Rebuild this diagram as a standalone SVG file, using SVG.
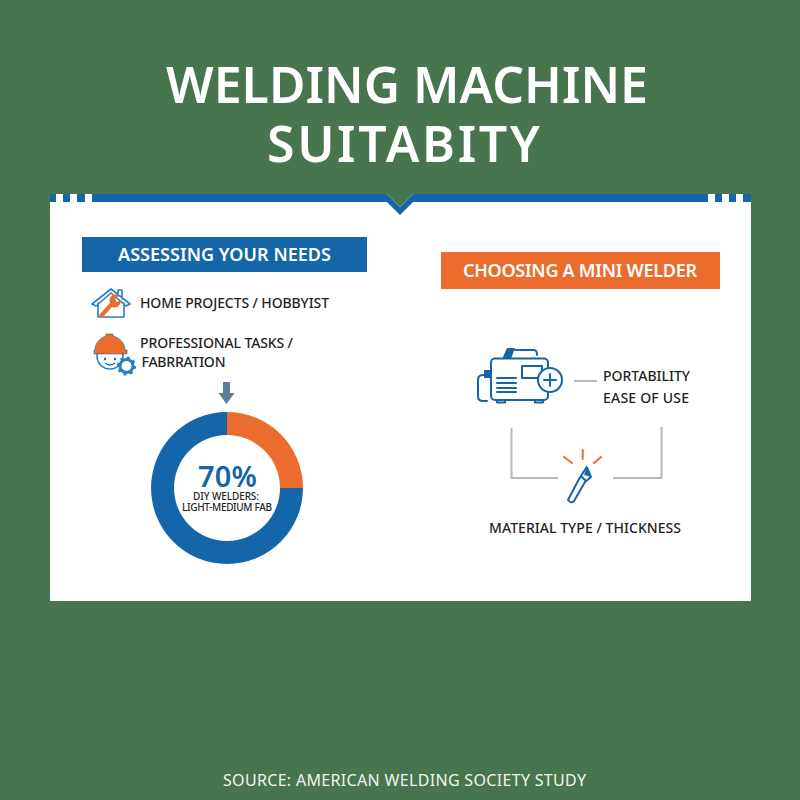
<svg xmlns="http://www.w3.org/2000/svg" width="800" height="800" viewBox="0 0 800 800">
<style>
text{font-family:"Noto Sans","Open Sans","Liberation Sans",sans-serif}
.t{fill:#fff;font-size:50px;font-weight:600}
.l{fill:#1f1f1f;font-size:14px;font-weight:500}
.h{fill:#fff;font-size:18px;font-weight:600}
.b{fill:none;stroke:#1565a9;stroke-width:2;stroke-linejoin:round;stroke-linecap:round}
.i{fill:none;stroke:#2a7fc1;stroke-width:1.6;stroke-linejoin:round;stroke-linecap:round}
.o{fill:none;stroke:#ec6c2d;stroke-width:2;stroke-linecap:round}
.g{fill:none;stroke:#b9b9b9;stroke-width:2}
</style>
<rect width="800" height="800" fill="#47754e"/>
<g id="title"><text class="t" x="166" y="102.500" textLength="482">WELDING MACHINE</text><text class="t" x="267" y="161.500" textLength="273">SUITABITY</text></g>
<g id="panel">
<rect x="50" y="194" width="701" height="407" fill="#fff"/>
<path d="M92 194H387L400 207L413 194H708V202H413L400 215L387 202H92Z" fill="#1565a9"/>
<path d="M50 194h6v8h-6zM63 194h7v8h-7zM77 194h8v8h-8zM715 194h7v8h-7zM729 194h7v8h-7zM743 194h8v8h-8z" fill="#1565a9"/>
<path d="M387 194H413L400 207Z" fill="#47754e"/>
</g>
<g id="needs-header"><rect x="82" y="237" width="285" height="35" fill="#1565a9"/><text class="h" x="118" y="261" textLength="213">ASSESSING YOUR NEEDS</text></g>
<g id="mini-header"><rect x="441" y="252" width="279" height="37" fill="#ec6c2d"/><text class="h" x="463" y="277" textLength="234">CHOOSING A MINI WELDER</text></g>
<g id="home">
<path class="i" d="M92 304L111 289L130 304L126 306L111 293L96 306ZM98 303V317H124V303M118 296V290H122V299"/>
<path d="M102 318L99 315L110 303C108 298 112 293 119 295L115 299L117 302L121 300C121 305 117 309 112 307Z" fill="#ec6c2d"/>
<text class="l" x="140" y="308" textLength="189">HOME PROJECTS / HOBBYIST</text>
</g>
<g id="professional">
<circle class="i" cx="110" cy="356" r="13"/>
<path d="M95 350C95 343 100 338 106 336V334H113V336C120 338 125 343 125 350H127V354H94V350Z" fill="#ec6c2d" stroke="#1565a9" stroke-width=".6"/>
<circle cx="105" cy="359" r="1.200" fill="#1565a9"/><circle cx="115" cy="359" r="1.200" fill="#1565a9"/>
<path d="M105 363q5 4 10 0" fill="none" stroke="#1565a9" stroke-width="1.300"/>
<circle cx="126.500" cy="366" r="6.500" fill="#fff" stroke="#2a7fc1" stroke-width="3"/>
<circle cx="126.500" cy="366" r="8.500" fill="none" stroke="#2a7fc1" stroke-width="2.200" stroke-dasharray="3 3.670"/>
<text class="l" x="140" y="348" textLength="153">PROFESSIONAL TASKS /</text>
<text class="l" x="141.500" y="367" textLength="84">FABRRATION</text>
</g>
<g id="donut">
<path d="M223 382h7v11h4.500l-8 11-8-11h4.500z" fill="#5d7c9b"/>
<path d="M303 488A76 76 0 1 1 227 412V435A53 53 0 1 0 280 488Z" fill="#1565a9"/>
<path d="M227 412A76 76 0 0 1 303 488H280A53 53 0 0 0 227 435Z" fill="#ec6c2d"/>
<text x="198" y="487" fill="#1565a9" font-size="29" font-weight="600" textLength="59">70%</text>
<text x="193" y="500" fill="#1f1f1f" font-size="10" font-weight="500" textLength="66">DIY WELDERS:</text>
<text x="182" y="510.500" fill="#1f1f1f" font-size="10" font-weight="500" textLength="90">LIGHT-MEDIUM FAB</text>
</g>
<g id="welder">
<rect class="b" x="491" y="358.500" width="57" height="41.500" rx="4"/>
<path class="b" d="M515 350H534Q537 350 537 355"/>
<path d="M502 359L507 348H515L511 359Z" fill="#1565a9"/>
<rect class="b" x="522" y="366" width="20" height="12"/>
<path class="b" d="M497 378H516M497 383H516M497 388H516M497 392H516"/>
<path class="b" d="M497 400v2.500h8v-2.500M535 400v2.500h8v-2.500"/>
<path class="b" d="M486 375H483Q478 375 478 380V396Q478 401 483 401H487"/>
<rect x="484" y="370" width="7" height="8" fill="#1565a9"/>
<circle cx="550" cy="380" r="12" fill="#fff" stroke="#1565a9" stroke-width="2"/>
<path class="b" d="M544 380H556M550 374V386"/>
<text class="l" x="603" y="380.500" textLength="87">PORTABILITY</text>
<text class="l" x="603" y="403" textLength="86">EASE OF USE</text>
</g>
<g id="connectors">
<path class="g" d="M574 381H597M511.500 428V478H558M661.500 427V478H613"/>
</g>
<g id="torch">
<path class="o" d="M582.700 450V459M564 457L572 463M601 457L594 463"/>
<path d="M586.700 467L591 477L584 475Z" fill="#1565a9"/>
<path class="b" d="M586.700 467L591 477L585 482L574 501Q571 504 568 500L579 479Z"/>
<path class="b" d="M581 476L586 481"/>
<text class="l" x="489" y="533" textLength="192">MATERIAL TYPE / THICKNESS</text>
</g>
<g id="source"><text x="223" y="786" fill="#f0f4f0" font-size="16" textLength="363">SOURCE: AMERICAN WELDING SOCIETY STUDY</text></g>
</svg>
